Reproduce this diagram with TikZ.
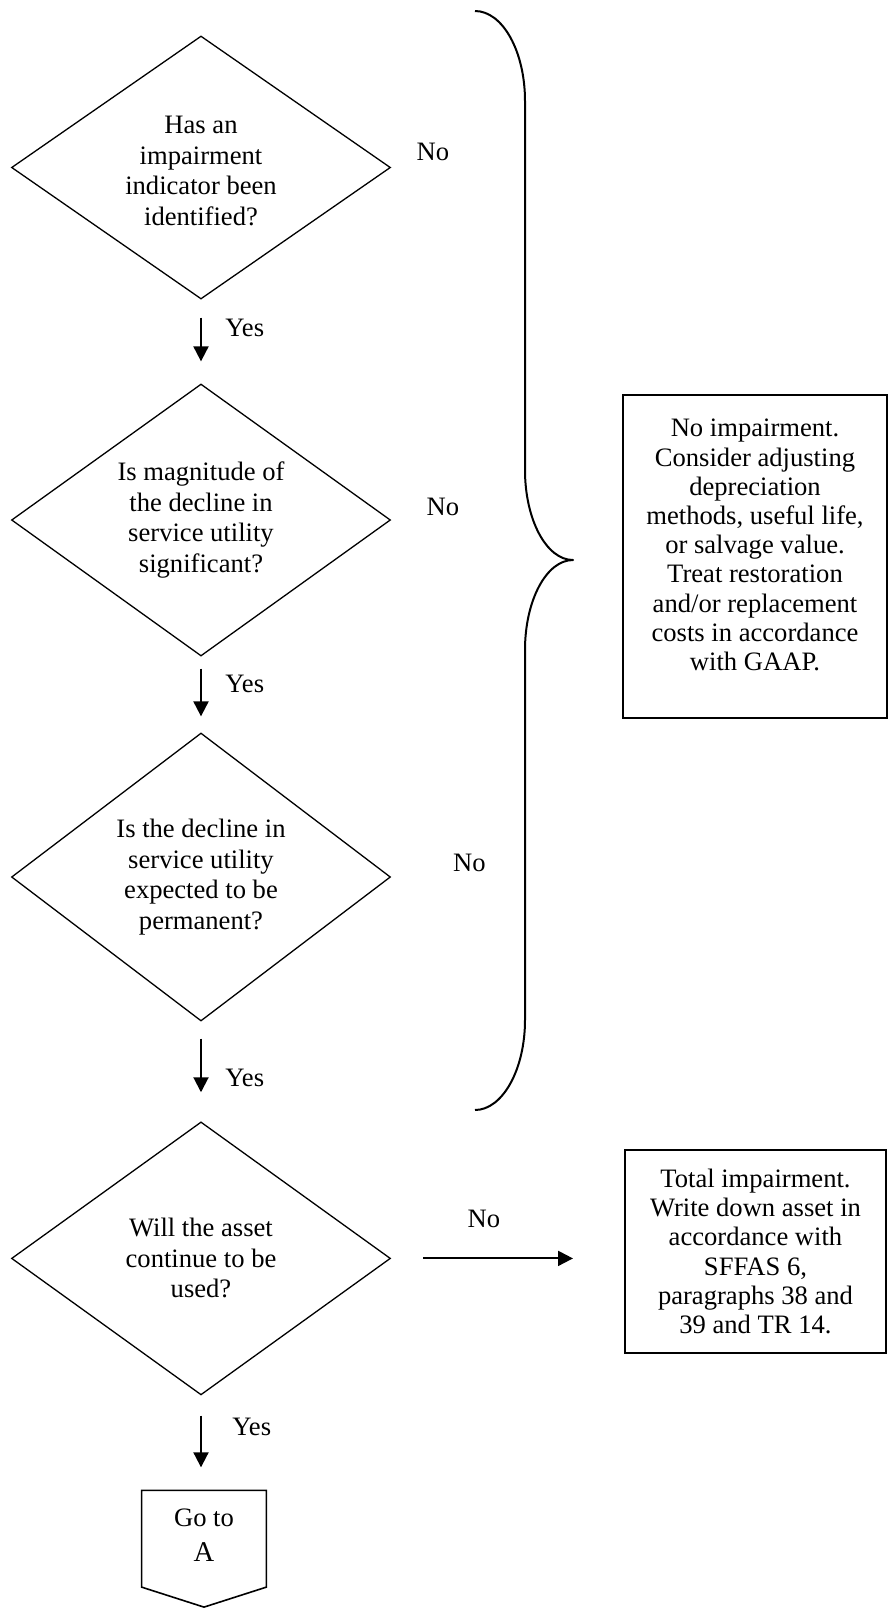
\documentclass[tikz,border=0pt]{standalone}
\usepackage{fontspec}
\setmainfont{Liberation Serif}
\usetikzlibrary{shapes.geometric,arrows.meta,calc}
\begin{document}
\begin{tikzpicture}[x=0.5pt,y=-0.5pt,
  dia/.style={draw, diamond, line width=0.65pt, minimum width=189.5pt, inner sep=0pt},
  txt/.style={align=center, font=\fontsize{13.3pt}{15.2pt}\selectfont, inner sep=0pt},
  btxt/.style={align=center, font=\fontsize{13.3pt}{14.6pt}\selectfont, inner sep=0pt},
  lbl/.style={font=\fontsize{13.3pt}{15pt}\selectfont, inner sep=0pt},
  arr/.style={line width=1pt, -{Triangle[width=7.5pt,length=7.5pt]}},
  boxst/.style={draw, line width=1pt, inner sep=0pt},
]
\useasboundingbox (0,0) rectangle (894,1608);

% decisions
\node[dia, minimum height=131.5pt] (d1) at (201,167.5) {};
\node[dia, minimum height=136pt] (d2) at (201,520) {};
\node[dia, minimum height=144pt] (d3) at (201,877) {};
\node[dia, minimum height=136.5pt] (d4) at (201,1258.4) {};

\node[txt] (t1) at (201,171) {Has an\\impairment\\indicator been\\identified?};
\node[txt] (t2) at (201,520) {Is magnitude of\\the decline in\\service utility\\significant?};
\node[txt] (t3) at (201,877) {Is the decline in\\service utility\\expected to be\\permanent?};
\node[txt] (t4) at (201,1258) {Will the asset\\continue to be\\used?};

% outcome boxes
\node[boxst, minimum width=132pt, minimum height=161.5pt] (b1) at (755,556.5) {};
\node[btxt] (b1t) at (755,545) {No impairment.\\Consider adjusting\\depreciation\\methods, useful life,\\or salvage value.\\Treat restoration\\and/or replacement\\costs in accordance\\with GAAP.};
\node[boxst, minimum width=130.5pt, minimum height=101.5pt] (b2) at (755.5,1251.5) {};
\node[btxt] (b2t) at (755.5,1251.5) {Total impairment.\\Write down asset in\\accordance with\\SFFAS 6,\\paragraphs 38 and\\39 and TR 14.};

% off-page connector
\node[inner sep=0pt, minimum width=62pt, minimum height=48pt] (ga) at (204,1538.7) {};
\draw[line width=0.8pt, line join=miter] (ga.south west) -- (ga.north west) -- (ga.north east) -- (ga.south east) -- ($(ga.south)+(0,20)$) -- cycle;
\node[lbl, anchor=base] (gat) at (204,1526.7) {Go to};
\node[inner sep=0pt, anchor=base, font=\fontsize{14.3pt}{16pt}\selectfont] (gaA) at (204,1561.7) {A};

% yes arrows
\draw[arr] ($(d1.south)+(0,18)$) -- ($(d2.north)+(0,-22)$);
\draw[arr] ($(d2.south)+(0,12)$) -- ($(d3.north)+(0,-16)$);
\draw[arr] ($(d3.south)+(0,17)$) -- ($(d4.north)+(0,-29)$);
\draw[arr] ($(d4.south)+(0,20)$) -- ($(d4.south |- ga.north)+(0,-23)$);
\node[lbl, anchor=base west] (y1) at (225,336.7) {Yes};
\node[lbl, anchor=base west] (y2) at (225,692.7) {Yes};
\node[lbl, anchor=base west] (y3) at (225,1086.7) {Yes};
\node[lbl, anchor=base west] (y4) at (232,1435) {Yes};

% no labels
\node[lbl] (n1) at (433,152) {No};
\node[lbl] (n2) at (443,507) {No};
\node[lbl] (n3) at (469.5,863) {No};
\node[lbl] (n4) at (484,1219) {No};
\draw[arr] ($(d4.east)+(32,0)$) -- ($(d4.east -| b2.west)+(-51,0)$);

% brace
\draw[line width=1pt, line join=round] (475,11) .. controls (502.6,11) and (525,51.3) .. (525,101) -- (525,470) .. controls (525,519.7) and (546.5,560) .. (573,560) .. controls (546.5,560) and (525,600.3) .. (525,650) -- (525,1020) .. controls (525,1069.7) and (502.4,1110) .. (475,1110);
\end{tikzpicture}
\end{document}
